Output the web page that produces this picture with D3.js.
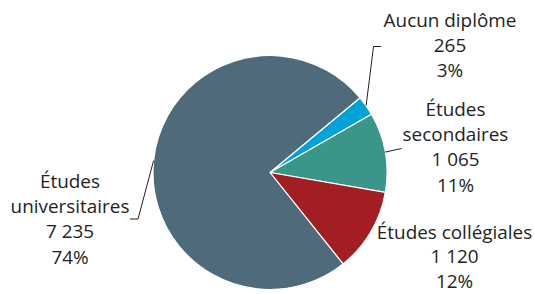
<!DOCTYPE html>
<html>
<head>
<meta charset="utf-8">
<script src="https://cdn.jsdelivr.net/npm/d3@7"></script>
<style>
  html, body { margin: 0; padding: 0; background: #ffffff; }
  svg { display: block; }
  text { font-family: "Open Sans", "Noto Sans", sans-serif; fill: #231f20; }
</style>
</head>
<body>
<svg id="chart" width="534" height="294"></svg>
<script>
// ---- data ----
const categories = ["Aucun diplôme", "Études secondaires", "Études collégiales", "Études universitaires"];
const values = [265, 1065, 1120, 7235];
const valueLabels = ["265", "1 065", "1 120", "7 235"];
const percentLabels = ["3%", "11%", "12%", "74%"];
const nameLines = [["Aucun diplôme"], ["Études", "secondaires"], ["Études collégiales"], ["Études", "universitaires"]];

// ---- styles / layout ----
const colors = ["#00a2d8", "#3a9689", "#a21e23", "#4f6b7b"];
const width = 534, height = 294;
const cx = 270, cy = 172.5, radius = 117;
const startDeg = 50.3;
const lineH = 25.2;
const fontSize = 18.9;
// label layout: centre x, first baseline y, leader elbow/end (null = no leader)
const labelLayout = [
  { x: 450, y: 27, leader: [[373.5, 46.5], [381, 46.5]] },
  { x: 455.5, y: 116, leader: [[401.5, 148.5]] },
  { x: 454.5, y: 238.5, leader: null, lh: 24.6 },
  { x: 70, y: 188, leader: [[138, 219], [130, 219]] }
];

const svg = d3.select("#chart");
const g = svg.append("g").attr("transform", `translate(${cx},${cy})`);

const start = startDeg * Math.PI / 180;
const pie = d3.pie().sort(null).value(d => d).startAngle(start).endAngle(start + 2 * Math.PI);
const arcs = pie(values);
const arc = d3.arc().innerRadius(0).outerRadius(radius);

g.selectAll("path.slice")
  .data(arcs)
  .join("path")
  .attr("class", "slice")
  .attr("d", arc)
  .attr("fill", (d, i) => colors[i])
  .attr("stroke", "#ffffff")
  .attr("stroke-width", 1.2)
  .attr("stroke-linejoin", "round");

// leader lines
arcs.forEach((d, i) => {
  const L = labelLayout[i];
  if (!L.leader) return;
  const mid = (d.startAngle + d.endAngle) / 2;
  const p0 = [cx + radius * Math.sin(mid), cy - radius * Math.cos(mid)];
  const pts = [p0].concat(L.leader);
  svg.append("path")
    .attr("d", d3.line()(pts))
    .attr("fill", "none")
    .attr("stroke", "#231f20")
    .attr("stroke-width", 1);
});

// labels
arcs.forEach((d, i) => {
  const L = labelLayout[i];
  const lh = L.lh || lineH;
  const lines = nameLines[i].concat([valueLabels[i], percentLabels[i]]);
  const t = svg.append("text")
    .attr("text-anchor", "middle")
    .attr("font-size", fontSize);
  lines.forEach((s, k) => {
    t.append("tspan").attr("x", L.x).attr("y", L.y + k * lh).text(s);
  });
});
</script>
</body>
</html>
